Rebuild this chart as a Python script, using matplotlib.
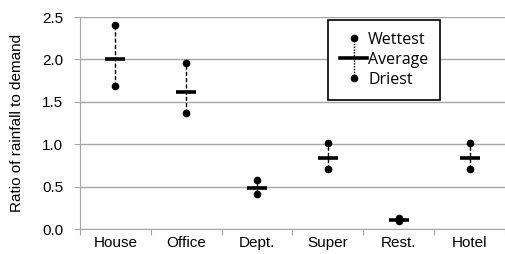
import matplotlib.pyplot as plt
from matplotlib.lines import Line2D
from matplotlib.legend_handler import HandlerBase

plt.rcParams['font.family'] = ['Liberation Sans', 'DejaVu Sans']

categories = ['House', 'Office', 'Dept.', 'Super', 'Rest.', 'Hotel']
wettest = [2.41, 1.96, 0.58, 1.01, 0.13, 1.02]
average = [2.00, 1.615, 0.49, 0.84, 0.11, 0.84]
driest = [1.69, 1.37, 0.41, 0.71, 0.10, 0.71]


class AverageHandler(HandlerBase):
    # horizontal bar with a dotted vertical line through it
    def create_artists(self, legend, orig_handle, xdescent, ydescent,
                       width, height, fontsize, trans):
        cx = width / 2 - xdescent
        cy = height / 2 - ydescent
        bar = Line2D([-xdescent, width - xdescent], [cy, cy],
                     color='black', lw=2.6, transform=trans)
        vline = Line2D([cx, cx], [cy - 14, cy + 14], color='black',
                       lw=1.0, ls=(0, (1, 1)), transform=trans)
        return [vline, bar]


class DotHandler(HandlerBase):
    def create_artists(self, legend, orig_handle, xdescent, ydescent,
                       width, height, fontsize, trans):
        cx = width / 2 - xdescent
        cy = height / 2 - ydescent
        dot = Line2D([cx], [cy], marker='o', ms=4.5, color='black',
                     ls='none', transform=trans)
        return [dot]


fig, ax = plt.subplots(figsize=(5.06, 2.54), dpi=100)
fig.subplots_adjust(left=0.158, right=0.998, bottom=0.098, top=0.933)

x = list(range(len(categories)))
for xi, w, d in zip(x, wettest, driest):
    ax.plot([xi, xi], [d, w], color='black', lw=1.0, ls=(0, (3, 1.5)), zorder=3)
ax.plot(x, wettest, 'o', color='black', ms=4.5, zorder=4)
ax.plot(x, driest, 'o', color='black', ms=4.5, zorder=4)
ax.plot(x, average, '_', color='black', ms=14, mew=2.6, zorder=5)

ax.set_xlim(-0.5, len(categories) - 0.5)
ax.set_ylim(0, 2.5)
ax.set_yticks([0, 0.5, 1.0, 1.5, 2.0, 2.5])
ax.set_yticklabels(['0.0', '0.5', '1.0', '1.5', '2.0', '2.5'])
ax.yaxis.grid(True, color='#a6a6a6', lw=1.0)
ax.set_axisbelow(True)

ax.set_xticks([i - 0.5 for i in range(len(categories) + 1)])
ax.set_xticklabels([])
ax.set_xticks(x, minor=True)
ax.set_xticklabels(categories, minor=True)
ax.tick_params(axis='x', which='minor', length=0, pad=5, labelsize=11)
ax.tick_params(axis='x', which='major', length=4, color='#a6a6a6', direction='out')
ax.tick_params(axis='y', length=4, color='#a6a6a6', labelsize=11, pad=8)

for side in ['top', 'right']:
    ax.spines[side].set_visible(False)
for side in ['left', 'bottom']:
    ax.spines[side].set_color('#a6a6a6')

ax.set_ylabel('Ratio of rainfall to demand', fontsize=11, labelpad=13)

h_wet = Line2D([], [], label='Wettest')
h_avg = Line2D([], [], label='Average')
h_dry = Line2D([], [], label='Driest')
leg = ax.legend(handles=[h_wet, h_avg, h_dry],
                handler_map={h_wet: DotHandler(), h_avg: AverageHandler(), h_dry: DotHandler()},
                loc='upper left', bbox_to_anchor=(0.584, 0.986), fancybox=False,
                edgecolor='black', framealpha=1, handlelength=1.7,
                handletextpad=0.05, labelspacing=0.25, borderpad=0.75,
                borderaxespad=0, prop={'family': ['Open Sans', 'DejaVu Sans'], 'size': 11.5})
leg.get_frame().set_linewidth(1.2)

fig.savefig('out.png', dpi=100)
